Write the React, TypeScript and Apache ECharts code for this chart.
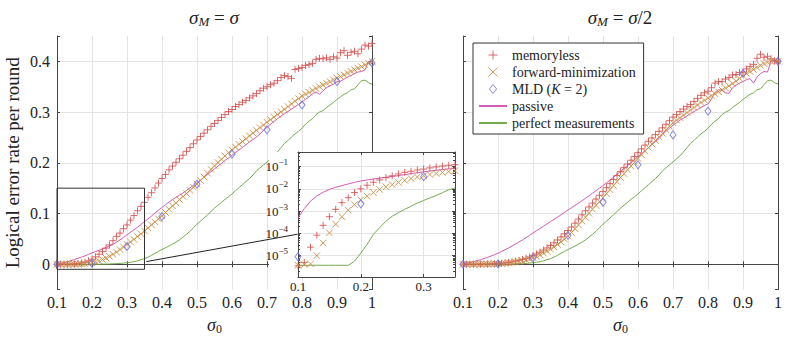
import React, { useEffect, useRef } from "react";
import * as echarts from "echarts";

// ---------- data ----------
const SIGMA = [
  0.10, 0.11, 0.12, 0.13, 0.14, 0.15, 0.16, 0.17, 0.18, 0.19,
  0.20, 0.21, 0.22, 0.23, 0.24, 0.25, 0.26, 0.27, 0.28, 0.29,
  0.30, 0.31, 0.32, 0.33, 0.34, 0.35, 0.36, 0.37, 0.38, 0.39,
  0.40, 0.41, 0.42, 0.43, 0.44, 0.45, 0.46, 0.47, 0.48, 0.49,
  0.50, 0.51, 0.52, 0.53, 0.54, 0.55, 0.56, 0.57, 0.58, 0.59,
  0.60, 0.61, 0.62, 0.63, 0.64, 0.65, 0.66, 0.67, 0.68, 0.69,
  0.70, 0.71, 0.72, 0.73, 0.74, 0.75, 0.76, 0.77, 0.78, 0.79,
  0.80, 0.81, 0.82, 0.83, 0.84, 0.85, 0.86, 0.87, 0.88, 0.89,
  0.90, 0.91, 0.92, 0.93, 0.94, 0.95, 0.96, 0.97, 0.98, 0.99,
  1.00,
];
const MLD_SIGMA = [0.1, 0.2, 0.3, 0.4, 0.5, 0.6, 0.7, 0.8, 0.9, 1.0];

// sigma_M = sigma
const MEMORYLESS_EQ = [
  0.0000035, 0.000005, 0.000024, 0.000083, 0.00023, 0.00056, 0.0012, 0.0024, 0.0040, 0.0068,
  0.0100, 0.0145, 0.0198, 0.0250, 0.0318, 0.0382, 0.0465, 0.0550, 0.0615, 0.0700,
  0.0775, 0.0870, 0.0960, 0.1055, 0.1140, 0.1220, 0.1320, 0.1410, 0.1505, 0.1600,
  0.1690, 0.1770, 0.1860, 0.1935, 0.2010, 0.2080, 0.2150, 0.2225, 0.2300, 0.2375,
  0.2450, 0.2520, 0.2585, 0.2650, 0.2720, 0.2775, 0.2835, 0.2895, 0.2950, 0.3010,
  0.3050, 0.3110, 0.3150, 0.3195, 0.3230, 0.3280, 0.3320, 0.3365, 0.3420, 0.3470,
  0.3500, 0.3540, 0.3570, 0.3620, 0.3680, 0.3720, 0.3700, 0.3665, 0.3840, 0.3860,
  0.3880, 0.3920, 0.3935, 0.3960, 0.4040, 0.4060, 0.4050, 0.4070, 0.4040, 0.4090,
  0.4065, 0.4170, 0.4210, 0.4120, 0.4180, 0.4200, 0.4150, 0.4240, 0.4320, 0.4300,
  0.4350,
];
const FORWARD_EQ = [
  0.0000037, 0.000004, 0.0000043, 0.000010, 0.000037, 0.000105, 0.00026, 0.00056, 0.0011, 0.00195,
  0.0032, 0.0047, 0.0068, 0.0093, 0.0123, 0.0155, 0.0195, 0.0240, 0.0290, 0.0340,
  0.0390, 0.0440, 0.0490, 0.0545, 0.0600, 0.0655, 0.0715, 0.0775, 0.0835, 0.0895,
  0.0955, 0.1020, 0.1085, 0.1150, 0.1210, 0.1275, 0.1335, 0.1395, 0.1455, 0.1520,
  0.1580, 0.1650, 0.1720, 0.1795, 0.1870, 0.1940, 0.2005, 0.2070, 0.2135, 0.2200,
  0.2255, 0.2310, 0.2365, 0.2420, 0.2475, 0.2530, 0.2585, 0.2640, 0.2695, 0.2745,
  0.2800, 0.2850, 0.2900, 0.2955, 0.3005, 0.3055, 0.3110, 0.3160, 0.3215, 0.3265,
  0.3315, 0.3355, 0.3390, 0.3430, 0.3465, 0.3500, 0.3535, 0.3570, 0.3600, 0.3635,
  0.3670, 0.3700, 0.3735, 0.3770, 0.3805, 0.3835, 0.3865, 0.3895, 0.3930, 0.3965,
  0.4000,
];
const MLD_EQ = [0.000009, 0.0021, 0.035, 0.094, 0.158, 0.217, 0.265, 0.314, 0.360, 0.397];
const PASSIVE_EQ = [
  0.00049, 0.0013, 0.0028, 0.0048, 0.0070, 0.0094, 0.0118, 0.0140, 0.0165, 0.0195,
  0.0225, 0.0250, 0.0275, 0.0300, 0.0330, 0.0360, 0.0395, 0.0435, 0.0480, 0.0530,
  0.0580, 0.0630, 0.0680, 0.0730, 0.0785, 0.0840, 0.0895, 0.0950, 0.1010, 0.1065,
  0.1120, 0.1175, 0.1225, 0.1275, 0.1320, 0.1360, 0.1405, 0.1455, 0.1505, 0.1555,
  0.1605, 0.1660, 0.1715, 0.1770, 0.1825, 0.1880, 0.1935, 0.1990, 0.2045, 0.2095,
  0.2150, 0.2200, 0.2255, 0.2305, 0.2355, 0.2410, 0.2460, 0.2510, 0.2565, 0.2640,
  0.2700, 0.2760, 0.2815, 0.2870, 0.2920, 0.2970, 0.3010, 0.3060, 0.3105, 0.3150,
  0.3200, 0.3250, 0.3300, 0.3360, 0.3395, 0.3350, 0.3420, 0.3480, 0.3520, 0.3550,
  0.3600, 0.3610, 0.3650, 0.3690, 0.3720, 0.3760, 0.3790, 0.3800, 0.3830, 0.4000,
  0.3950,
];
// perfect measurements does not depend on sigma_M
const PERFECT = [
  0.0000037, 0.0000037, 0.0000037, 0.0000037, 0.0000037, 0.0000037, 0.0000037, 0.0000037, 0.0000037, 0.0000056,
  0.000013, 0.000032, 0.00009, 0.00018, 0.00035, 0.00059, 0.00085, 0.0012, 0.00166, 0.0023,
  0.0030, 0.0039, 0.0050, 0.0067, 0.0090, 0.0110, 0.0140, 0.0175, 0.0215, 0.0255,
  0.0290, 0.0325, 0.0360, 0.0395, 0.0435, 0.0480, 0.0535, 0.0590, 0.0650, 0.0720,
  0.0790, 0.0850, 0.0910, 0.0975, 0.1040, 0.1105, 0.1165, 0.1220, 0.1280, 0.1330,
  0.1385, 0.1450, 0.1510, 0.1570, 0.1630, 0.1690, 0.1760, 0.1840, 0.1900, 0.1960,
  0.2015, 0.2080, 0.2135, 0.2215, 0.2300, 0.2380, 0.2440, 0.2510, 0.2570, 0.2620,
  0.2680, 0.2760, 0.2820, 0.2870, 0.2950, 0.3000, 0.3030, 0.3090, 0.3140, 0.3190,
  0.3250, 0.3300, 0.3350, 0.3380, 0.3440, 0.3460, 0.3540, 0.3620, 0.3630, 0.3580,
  0.3550,
];

// sigma_M = sigma / 2
const MEMORYLESS_HALF = [
  0.0000, 0.0000, 0.0000, 0.0001, 0.0001, 0.0002, 0.0003, 0.0005, 0.0007, 0.0010,
  0.0014, 0.0019, 0.0026, 0.0035, 0.0046, 0.0060, 0.0076, 0.0095, 0.0117, 0.0142,
  0.0170, 0.0202, 0.0238, 0.0278, 0.0322, 0.0370, 0.0422, 0.0478, 0.0538, 0.0600,
  0.0665, 0.0735, 0.0810, 0.0890, 0.0975, 0.1055, 0.1130, 0.1205, 0.1285, 0.1360,
  0.1435, 0.1510, 0.1590, 0.1670, 0.1750, 0.1830, 0.1905, 0.1975, 0.2050, 0.2125,
  0.2200, 0.2275, 0.2350, 0.2425, 0.2490, 0.2555, 0.2620, 0.2690, 0.2760, 0.2830,
  0.2900, 0.2950, 0.3010, 0.3060, 0.3110, 0.3150, 0.3210, 0.3270, 0.3330, 0.3380,
  0.3410, 0.3480, 0.3570, 0.3600, 0.3600, 0.3650, 0.3680, 0.3730, 0.3740, 0.3780,
  0.3790, 0.3850, 0.3900, 0.3940, 0.4060, 0.4140, 0.4080, 0.4100, 0.4050, 0.4010,
  0.4000,
];
const FORWARD_HALF = [
  0.0000, 0.0000, 0.0000, 0.0000, 0.0001, 0.0001, 0.0002, 0.0003, 0.0005, 0.0007,
  0.0010, 0.0014, 0.0019, 0.0026, 0.0034, 0.0044, 0.0056, 0.0070, 0.0087, 0.0107,
  0.0130, 0.0156, 0.0185, 0.0218, 0.0255, 0.0296, 0.0340, 0.0388, 0.0440, 0.0495,
  0.0555, 0.0625, 0.0700, 0.0775, 0.0850, 0.0925, 0.1005, 0.1085, 0.1160, 0.1235,
  0.1310, 0.1390, 0.1470, 0.1550, 0.1630, 0.1710, 0.1785, 0.1860, 0.1935, 0.2010,
  0.2085, 0.2160, 0.2230, 0.2300, 0.2370, 0.2440, 0.2510, 0.2580, 0.2650, 0.2720,
  0.2790, 0.2840, 0.2890, 0.2940, 0.2990, 0.3040, 0.3090, 0.3140, 0.3190, 0.3235,
  0.3280, 0.3320, 0.3360, 0.3400, 0.3435, 0.3475, 0.3515, 0.3560, 0.3610, 0.3665,
  0.3720, 0.3760, 0.3800, 0.3840, 0.3880, 0.3920, 0.3955, 0.3985, 0.4000, 0.4010,
  0.4000,
];
const MLD_HALF = [0.0000, 0.0005, 0.013, 0.057, 0.122, 0.196, 0.255, 0.302, 0.376, 0.400];
const PASSIVE_HALF = [
  0.0010, 0.0020, 0.0035, 0.0052, 0.0070, 0.0090, 0.0112, 0.0135, 0.0160, 0.0188,
  0.0218, 0.0250, 0.0285, 0.0320, 0.0358, 0.0398, 0.0440, 0.0480, 0.0525, 0.0570,
  0.0615, 0.0660, 0.0705, 0.0750, 0.0795, 0.0840, 0.0885, 0.0930, 0.0975, 0.1022,
  0.1070, 0.1115, 0.1160, 0.1205, 0.1252, 0.1300, 0.1350, 0.1400, 0.1450, 0.1500,
  0.1550, 0.1605, 0.1660, 0.1715, 0.1772, 0.1830, 0.1888, 0.1945, 0.2005, 0.2062,
  0.2120, 0.2180, 0.2240, 0.2300, 0.2360, 0.2420, 0.2480, 0.2555, 0.2620, 0.2680,
  0.2740, 0.2790, 0.2840, 0.2880, 0.2925, 0.2970, 0.3010, 0.3050, 0.3090, 0.3130,
  0.3160, 0.3260, 0.3390, 0.3440, 0.3430, 0.3380, 0.3370, 0.3480, 0.3530, 0.3570,
  0.3600, 0.3640, 0.3660, 0.3570, 0.3690, 0.3760, 0.3800, 0.3790, 0.4000, 0.4030,
  0.3960,
];

// zoom window shown in the inset, and the arrow linking it (data units of left plot)
const INSET_SIGMA_MAX = 0.35;
const ZOOM_BOX = [[0.1, -0.01], [0.35, -0.01], [0.35, 0.15], [0.1, 0.15], [0.1, -0.01]];
const ARROW_FROM = [0.7877, 0.0593];
const ARROW_TO = [0.3554, 0.0052];

const NAMES = ["memoryless", "forward-minimization", "MLD (K = 2)", "passive", "perfect measurements"];

// ---------- styling ----------
const SERIF = "Liberation Serif";
const TXT = "#222";
const FRAME = "#454545";
const GRIDC = "#e4e4e4";
const C_RED = "#d94f4f";
const C_ORANGE = "#c98a3c";
const C_BLUE = "#7474e0";
const C_MAGENTA = "#d35cb4";
const C_GREEN = "#76ab4d";
const PLUS = "path://M5,0L5,10M0,5L10,5";
const CROSS = "path://M0,0L10,10M10,0L0,10";
const DIAMOND = "path://M4,0L8,5L4,10L0,5Z";

const pair = (xs: number[], ys: number[]) => xs.map((x, i) => [x, ys[i]]);
const upTo = (pts: number[][], max: number) => pts.filter((p) => p[0] <= max + 1e-9);

const fmtTenth = (v: number) => {
  const t = v * 10;
  if (Math.abs(t - Math.round(t)) > 1e-6) return "";
  return String(Math.round(t) / 10);
};
const fmtPow = (v: number) => {
  const e = Math.log10(v);
  const k = Math.round(e);
  if (Math.abs(e - k) > 1e-6) return "";
  return `{b|10}{e|\u2212${-k}}`;
};

function markerSeries(name: string, data: number[][], symbol: string, size: any, color: string, xi: number, z: number, clip: boolean) {
  return {
    type: "scatter",
    name,
    data,
    symbol,
    symbolSize: size,
    xAxisIndex: xi,
    yAxisIndex: xi,
    z,
    clip,
    silent: true,
    itemStyle: { color: symbol === DIAMOND ? "rgba(255,255,255,0)" : color, borderColor: color, borderWidth: 1, opacity: 0.85 },
    emphasis: { disabled: true },
  };
}
function lineSeries(name: string, data: number[][], color: string, xi: number, z: number) {
  return {
    type: "line",
    name,
    data,
    symbol: "none",
    showSymbol: false,
    xAxisIndex: xi,
    yAxisIndex: xi,
    z,
    silent: true,
    lineStyle: { color, width: 1 },
    itemStyle: { color },
    emphasis: { disabled: true },
  };
}

function xAxisMain(gridIndex: number, position: string, labels: boolean, named: boolean) {
  return {
    type: "value",
    gridIndex,
    position,
    min: 0.1,
    max: 1,
    interval: 0.1,
    axisLine: { show: true, lineStyle: { color: FRAME, width: 1 } },
    axisTick: { show: true, inside: true, length: 3, lineStyle: { color: FRAME } },
    splitLine: { show: labels, showMinLine: false, showMaxLine: false, lineStyle: { color: GRIDC, width: 1 } },
    axisLabel: { show: labels, formatter: fmtTenth, fontFamily: SERIF, fontSize: 16, color: TXT, margin: 5, showMinLabel: true, showMaxLabel: true },
    name: named ? "{i|σ}{s|0}" : "",
    nameLocation: "middle",
    nameGap: 24,
    nameTextStyle: {
      color: TXT,
      fontFamily: SERIF,
      rich: {
        i: { fontFamily: SERIF, fontStyle: "italic", fontSize: 18, color: TXT },
        s: { fontFamily: SERIF, fontSize: 12, color: TXT, padding: [9, 0, 0, 0] },
      },
    },
  };
}
function yAxisMain(gridIndex: number, position: string, labels: boolean, named: boolean) {
  return {
    type: "value",
    gridIndex,
    position,
    min: -0.05,
    max: 0.45,
    splitNumber: 5,
    axisLine: { show: true, lineStyle: { color: FRAME, width: 1 } },
    axisTick: { show: true, inside: true, length: 3, lineStyle: { color: FRAME } },
    splitLine: { show: position === "left", showMinLine: false, showMaxLine: false, lineStyle: { color: GRIDC, width: 1 } },
    axisLabel: { show: labels, formatter: fmtTenth, fontFamily: SERIF, fontSize: 16, color: TXT, margin: 7 },
    name: named ? "Logical error rate per round" : "",
    nameLocation: "middle",
    nameGap: 35,
    nameTextStyle: { fontFamily: SERIF, fontSize: 19, color: TXT },
  };
}
function yAxisInset(position: string, labels: boolean) {
  return {
    type: "log", logBase: 10, gridIndex: 2, position, min: 1.1e-6, max: 0.45, z: 11,
    axisLine: { show: true, lineStyle: { color: FRAME } },
    axisTick: { show: true, inside: true, length: 3, lineStyle: { color: FRAME } },
    minorTick: { show: true, splitNumber: 9, length: 2, lineStyle: { color: FRAME } },
    splitLine: { show: labels, showMinLine: false, showMaxLine: false, lineStyle: { color: GRIDC } },
    axisLabel: {
      show: labels, formatter: fmtPow, margin: 10, color: TXT, fontFamily: SERIF, showMinLabel: false, showMaxLabel: false,
      rich: {
        b: { fontFamily: SERIF, fontSize: 13, color: TXT },
        e: { fontFamily: SERIF, fontSize: 9, color: TXT, padding: [0, 0, 9, 0] },
      },
    },
  };
}

const LINE_LEGEND_ITEM = { itemStyle: { opacity: 0, color: "rgba(0,0,0,0)", borderWidth: 0 } };

const App: React.FC = () => {
  const ref = useRef<HTMLDivElement>(null);
  useEffect(() => {
    if (!ref.current) return;
    const chart = echarts.init(ref.current, undefined, { renderer: "svg" });

    const L = { mem: pair(SIGMA, MEMORYLESS_EQ), fwd: pair(SIGMA, FORWARD_EQ), mld: pair(MLD_SIGMA, MLD_EQ), pas: pair(SIGMA, PASSIVE_EQ), per: pair(SIGMA, PERFECT) };
    const R = { mem: pair(SIGMA, MEMORYLESS_HALF), fwd: pair(SIGMA, FORWARD_HALF), mld: pair(MLD_SIGMA, MLD_HALF), pas: pair(SIGMA, PASSIVE_HALF), per: pair(SIGMA, PERFECT) };

    const seriesFor = (d: any, xi: number, z: number, clip: boolean) => [
      markerSeries(NAMES[0], d.mem, PLUS, 7, C_RED, xi, z, clip),
      markerSeries(NAMES[1], d.fwd, CROSS, 6.5, C_ORANGE, xi, z, clip),
      markerSeries(NAMES[2], d.mld, DIAMOND, [6, 8], C_BLUE, xi, z, clip),
      lineSeries(NAMES[3], d.pas, C_MAGENTA, xi, z),
      lineSeries(NAMES[4], d.per, C_GREEN, xi, z),
    ];
    const inset = {
      mem: upTo(L.mem, INSET_SIGMA_MAX),
      fwd: upTo(L.fwd, INSET_SIGMA_MAX),
      mld: upTo(L.mld, INSET_SIGMA_MAX),
      pas: upTo(L.pas, INSET_SIGMA_MAX),
      per: upTo(L.per, INSET_SIGMA_MAX),
    };

    const titleRich = {
      i: { fontFamily: SERIF, fontStyle: "italic", fontSize: 19, fill: TXT, color: TXT },
      s: { fontFamily: SERIF, fontStyle: "italic", fontSize: 13, fill: TXT, color: TXT, padding: [9, 0, 0, 0] },
      n: { fontFamily: SERIF, fontSize: 19, fill: TXT, color: TXT },
    };

    const option: any = {
      animation: false,
      backgroundColor: "#fff",
      textStyle: { fontFamily: SERIF },
      grid: [
        { left: 57, top: 36, width: 315, height: 262 },
        { left: 463, top: 36, width: 315, height: 262 },
        { left: 298, top: 152, width: 157, height: 125, show: true, backgroundColor: "#fff", borderWidth: 0, z: 10 },
      ],
      xAxis: [
        xAxisMain(0, "bottom", true, true),
        xAxisMain(0, "top", false, false),
        xAxisMain(1, "bottom", true, true),
        xAxisMain(1, "top", false, false),
        {
          type: "value", gridIndex: 2, position: "bottom", min: 0.1, max: INSET_SIGMA_MAX, interval: 0.1, z: 11,
          axisLine: { show: true, lineStyle: { color: FRAME } },
          axisTick: { show: true, inside: true, length: 3, lineStyle: { color: FRAME } },
          splitLine: { show: true, showMinLine: false, showMaxLine: false, lineStyle: { color: GRIDC } },
          axisLabel: { formatter: fmtTenth, fontFamily: SERIF, fontSize: 13, color: TXT, margin: 3, showMaxLabel: false },
        },
        {
          type: "value", gridIndex: 2, position: "top", min: 0.1, max: INSET_SIGMA_MAX, interval: 0.1, z: 11,
          axisLine: { show: true, lineStyle: { color: FRAME } },
          axisTick: { show: true, inside: true, length: 3, lineStyle: { color: FRAME } },
          splitLine: { show: false },
          axisLabel: { show: false },
        },
      ],
      yAxis: [
        yAxisMain(0, "left", true, true),
        yAxisMain(0, "right", false, false),
        yAxisMain(1, "left", false, false),
        yAxisMain(1, "right", false, false),
        yAxisInset("left", true),
        yAxisInset("right", false),
      ],
      legend: {
        orient: "vertical",
        left: 473,
        top: 43,
        selectedMode: false,
        data: [
          { name: NAMES[0] },
          { name: NAMES[1] },
          { name: NAMES[2] },
          { name: NAMES[3], ...LINE_LEGEND_ITEM },
          { name: NAMES[4], ...LINE_LEGEND_ITEM },
        ],
        itemWidth: 28,
        itemHeight: 9,
        itemGap: 3,
        padding: [5, 8, 4, 5],
        borderColor: "#333",
        borderWidth: 1,
        backgroundColor: "#fff",
        itemStyle: { borderWidth: 1 },
        textStyle: {
          fontFamily: SERIF, fontSize: 14, color: TXT, lineHeight: 14,
          rich: {
            n: { fontFamily: SERIF, fontSize: 14, color: TXT },
            i: { fontFamily: SERIF, fontSize: 14, fontStyle: "italic", color: TXT },
          },
        },
        formatter: (name: string) => (name === NAMES[2] ? "{n|MLD (}{i|K}{n| = 2)}" : name),
      },
      graphic: [
        { type: "rect", z: 9, silent: true, shape: { x: 269, y: 152, width: 30, height: 125 }, style: { fill: "#fff" } },
        {
          type: "text", x: 214, y: 17, silent: true,
          style: { text: "{i|σ}{s|M}{n| = }{i|σ}", rich: titleRich, align: "center", verticalAlign: "middle", fill: TXT },
        },
        {
          type: "text", x: 620, y: 17, silent: true,
          style: { text: "{i|σ}{s|M}{n| = }{i|σ}{n|/2}", rich: titleRich, align: "center", verticalAlign: "middle", fill: TXT },
        },
      ],
      series: [
        ...seriesFor(L, 0, 2, false),
        {
          type: "line",
          name: "zoom window",
          data: ZOOM_BOX,
          xAxisIndex: 0,
          yAxisIndex: 0,
          symbol: "none",
          z: 3,
          silent: true,
          lineStyle: { color: "#333", width: 1 },
          emphasis: { disabled: true },
          markLine: {
            z: 20,
            silent: true,
            symbol: ["none", "arrow"],
            symbolSize: [0, 7],
            label: { show: false },
            emphasis: { disabled: true },
            lineStyle: { color: "#222", width: 1, type: "solid" },
            data: [[{ coord: ARROW_FROM }, { coord: ARROW_TO }]],
          },
        },
        ...seriesFor(R, 2, 2, false),
        ...seriesFor(inset, 4, 12, true),
      ],
    };
    chart.setOption(option);
    return () => chart.dispose();
  }, []);
  return <div ref={ref} style={{ position: "fixed", left: 0, top: 0, width: 789, height: 340 }} />;
};

export default App;
